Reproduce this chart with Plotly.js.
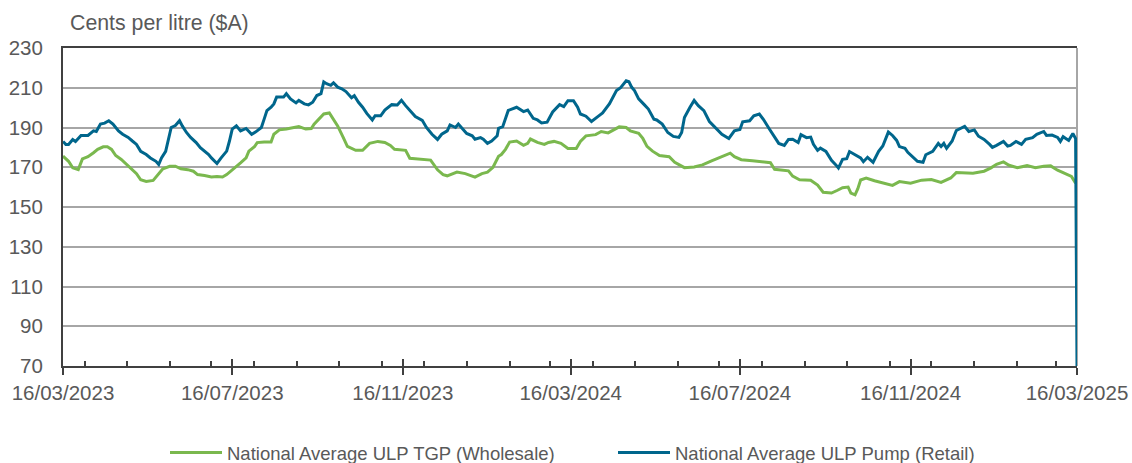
<!DOCTYPE html>
<html>
<head>
<meta charset="utf-8">
<script src="https://cdn.plot.ly/plotly-3.0.1.min.js"></script>
<style>
html,body{margin:0;padding:0;background:#fff;}
#chart{width:1132px;height:463px;}
</style>
</head>
<body>
<div id="chart"></div>
<script>
// ---- Data (days since 16/03/2023, cents per litre) ----
const startDate = '2023-03-16';
const endDate = '2025-03-16';

const seriesNames = ['National Average ULP TGP (Wholesale)', 'National Average ULP Pump (Retail)'];

const wholesaleDay = [0,4,7,11,14,18,22,25,29,32,35,38,42,45,49,53,56,60,65,68,72,77,81,85,90,94,97,102,107,111,115,118,121,125,128,132,134,138,140,145,150,152,156,161,165,170,175,179,181,185,188,192,194,198,202,205,211,216,221,227,232,236,239,247,250,265,270,274,277,284,290,297,302,306,310,314,316,319,322,327,332,335,337,342,347,350,354,359,364,370,373,377,384,388,393,397,401,406,409,415,418,421,425,430,437,441,448,455,461,468,475,481,484,489,497,504,510,513,518,523,526,531,539,544,548,554,558,562,566,568,571,573,575,579,585,593,598,603,611,619,626,633,640,644,649,656,664,669,673,678,682,688,695,701,707,712,717,722,727,730];
const wholesaleCents = [175.6,173,169.7,168.8,174.2,175.3,177.3,179,180.3,180.3,179,175.9,173.9,171.9,169.7,166.8,163.7,162.9,163.4,165.8,169.2,170.5,170.5,169.2,168.8,168,166.3,165.8,165.1,165.4,165.1,166.3,168,170.2,172.2,174.7,178.1,180.3,182.4,182.7,182.7,186.6,188.8,189.2,189.7,190.5,189.2,189.5,191.7,194.6,196.8,197.3,195.1,190.8,185,180.5,178.5,178.5,182,183,182.5,181,179,178.5,174.5,173.6,168.7,166.3,165.7,167.6,166.8,165,166.8,167.5,170,175.5,176.4,179,182.7,183.2,181,182,184.2,182.5,181.5,182.5,183,182,179.4,179.4,183,185.8,186.4,188,187.3,188.7,190.3,190,188.3,187.1,184.5,180.5,178.1,175.9,175.3,172.5,169.8,170.1,171.2,173.3,175.3,177.1,175.3,173.8,173.3,172.8,172.3,169,168.6,168.2,165.5,163.7,163.5,161,157.4,157,158.3,159.7,160,157,156.1,159.2,163.6,164.5,163.2,162,160.9,162.8,162,163.5,163.8,162.4,164.6,167.3,167.3,167,168,169.7,171.5,172.7,171,169.8,170.8,169.8,170.5,170.7,168.5,167.1,165.4,162];

const retailDay = [0,2,4,7,9,13,18,22,24,27,30,33,36,40,43,47,50,53,56,60,63,67,69,71,74,76,78,81,84,86,89,92,96,99,103,105,107,111,114,118,120,122,125,128,132,136,139,143,145,147,150,152,154,159,161,164,168,170,174,177,180,183,186,188,190,193,195,198,201,204,208,210,213,216,219,223,225,229,232,237,241,244,247,250,254,259,262,266,270,273,277,279,283,285,288,291,295,297,301,303,306,309,313,314,317,321,327,332,335,339,342,345,349,353,358,361,364,368,371,373,377,381,386,389,394,399,402,406,408,410,412,415,419,422,426,428,432,436,440,444,446,448,452,455,458,462,466,470,475,480,484,488,490,495,498,502,505,509,513,516,520,523,526,530,532,536,539,541,544,546,550,554,557,559,562,565,567,571,575,577,580,584,588,591,595,598,601,603,607,609,613,616,620,622,627,631,633,635,637,641,644,650,653,657,660,664,668,670,673,678,681,683,687,691,694,699,702,707,709,713,717,719,721,725,728,730,731];
const retailCents = [183,181.5,181.5,184,183,186,186,188.3,188,191.7,192.2,193.4,191.7,188.3,186.6,185,183.2,181.5,178,176.4,174.7,173,171.4,174.7,178,184,190,191,193.4,190.8,187.5,185,182.4,179.8,177.5,176.4,174.7,171.9,174.7,178.1,183.2,189.2,190.8,188.3,189.5,186.6,187.8,190,194.2,198.5,200.2,201.9,205.3,205.3,207,204.4,202.4,203.6,201.9,201.4,202.7,206.1,207,212.9,212,211.2,212.5,210.3,209.5,208.1,205,206,202.7,200.2,197.1,193.8,195.9,195.9,198.8,201.5,201.3,203.7,201,198.8,195.5,193.6,190,186.6,184,186.6,188.3,191.3,190,191.7,189.2,187,185.8,184.1,184.9,184.1,182,183.2,185.8,189.6,190.4,198.6,200.2,198,198.8,194.6,193.8,192.3,192.7,197.8,201.5,200.5,203.5,203.5,200.2,196.8,195.7,193,195.7,197.3,202,208.6,210,213.5,213,210.2,208.6,204.4,201.5,199.3,194.2,193.8,191.7,187.5,185.5,185,187.5,195,200.2,203.6,201,198.5,193,190,186.6,184.5,188.3,189,192.9,193.4,195.9,196.8,194,189.5,185,182,181,184,184.1,182.4,186.4,184.9,185.2,181.5,178.5,179.6,178,173.5,171.3,169.6,174,174.3,177.9,176.2,174.7,172.8,175,172.5,178,180.7,187.7,186,183.5,180.4,179.5,177.5,174.7,173,172.5,176.3,178,182,180.4,182,179.5,183.2,188.5,190.6,188,188.8,185.6,184,181.5,180,181,183,180.7,181,183,181.5,184.1,184.9,186.6,188,186,186.2,185,183,185.4,183.5,187,184.4,70];

const yTicks = [70,90,110,130,150,170,190,210,230];

// ---- build date strings from day offsets ----
function toDates(days){
  const base = Date.UTC(2023,2,16);
  return days.map(d => new Date(base + d*86400000).toISOString().slice(0,10));
}

const textColor = '#595959';
const font = 'Arial, "Liberation Sans", sans-serif';

const traces = [
  {
    x: toDates(wholesaleDay), y: wholesaleCents, name: seriesNames[0],
    type: 'scatter', mode: 'lines',
    line: {color: '#7ab84e', width: 3}
  },
  {
    x: toDates(retailDay), y: retailCents, name: seriesNames[1],
    type: 'scatter', mode: 'lines',
    line: {color: '#00668c', width: 3}
  },
  // helper trace so the second (tick-only) x axis is drawn
  {x: [startDate], y: [null], xaxis: 'x2', yaxis: 'y', showlegend: false, hoverinfo: 'skip', mode: 'lines'}
];

const layout = {
  width: 1132, height: 463,
  margin: {l: 63, r: 55, t: 48, b: 97, autoexpand: false},
  paper_bgcolor: '#fff', plot_bgcolor: '#fff',
  font: {family: font, color: textColor, size: 20},
  title: {
    text: 'Cents per litre ($A)',
    font: {family: font, size: 21.3, color: textColor},
    x: 70/1132, xanchor: 'left', y: 1 - 23/463, yanchor: 'middle'
  },
  showlegend: true,
  legend: {
    orientation: 'h', x: (165 - 63) / 1014, xanchor: 'left',
    y: (366 - 453) / 318, yanchor: 'middle',
    font: {family: font, size: 18.5, color: textColor},
    itemwidth: 52,
    entrywidth: 381, entrywidthmode: 'pixels',
    borderwidth: 0,
    bgcolor: 'rgba(0,0,0,0)'
  },
  xaxis: {
    type: 'date',
    range: [startDate, endDate],
    tick0: startDate, dtick: 'M4', tickformat: '%d/%m/%Y',
    ticks: 'outside', ticklen: 7, tickwidth: 2, tickcolor: '#404040',
    minor: {dtick: 'M1', ticks: 'inside', ticklen: 5, tickwidth: 2, tickcolor: '#404040', showgrid: false},
    showgrid: false, zeroline: false,
    showline: true, linecolor: '#404040', linewidth: 2, mirror: true,
    tickfont: {family: font, size: 20.5, color: textColor},
    fixedrange: true
  },
  xaxis2: {
    type: 'date', overlaying: 'x', anchor: 'y', side: 'bottom',
    range: [startDate, endDate],
    tick0: startDate, dtick: 'M4',
    ticks: 'inside', ticklen: 7, tickwidth: 2, tickcolor: '#404040',
    showticklabels: false, showgrid: false, zeroline: false, showline: false
  },
  yaxis: {
    range: [70, 230], tickvals: yTicks, ticktext: yTicks.map(String),
    showgrid: true, gridcolor: '#a6a6a6', gridwidth: 2,
    zeroline: false, showline: true, linecolor: '#404040', linewidth: 2,
    ticks: '', ticklabelstandoff: 14,
    tickfont: {family: font, size: 20.5, color: textColor},
    fixedrange: true
  },
  shapes: [
    {type: 'line', xref: 'paper', yref: 'paper', x0: 1, x1: 1, y0: 0, y1: 1,
     line: {color: '#a6a6a6', width: 2}, layer: 'below'}
  ]
};

Plotly.newPlot('chart', traces, layout, {staticPlot: true, displayModeBar: false});
</script>
</body>
</html>
